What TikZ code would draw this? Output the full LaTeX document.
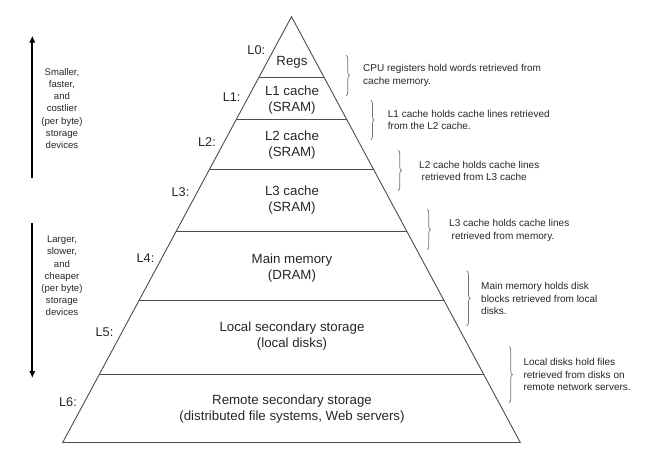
\documentclass[tikz,border=0pt]{standalone}
\usepackage{fontspec}
\setmainfont{Liberation Sans}
\usetikzlibrary{arrows.meta,decorations.pathreplacing}

\begin{document}
\begin{tikzpicture}[x=1pt,y=-1pt,
    tiertext/.style={font=\fontsize{13.3}{16}\selectfont, align=center, inner sep=0pt, text=black!85},
    lvl/.style={font=\fontsize{12.7}{15}\selectfont, inner sep=0pt, text=black!85},
    note/.style={font=\fontsize{10}{12.5}\selectfont, align=left, anchor=west, inner sep=0pt, text=black!85},
    side/.style={font=\fontsize{9.6}{12.2}\selectfont, align=center, inner sep=0pt, text=black!85},
    tier/.style={draw=black!70, line width=0.9pt},
    curly/.style={draw=black!55, line width=0.7pt, decorate, decoration={brace, amplitude=3.5pt}},
    bigarrow/.style={line width=2.3pt, -{Latex[length=7pt,width=6.5pt]}}]
  \useasboundingbox (0,0) rectangle (646,456);

  % pyramid
  \coordinate (top) at (291.5,16.7);
  \coordinate (BL) at (62.7,442.5);
  \coordinate (BR) at (520.3,442.5);
  \draw[tier] (BL) -- (top) -- (BR) -- cycle;

  \coordinate (A1) at (258.7,77.7);  \coordinate (B1) at (324.3,77.7);
  \coordinate (A2) at (236.4,119.3); \coordinate (B2) at (346.6,119.3);
  \coordinate (A3) at (209.5,169.3); \coordinate (B3) at (373.5,169.3);
  \coordinate (A4) at (176.4,231);   \coordinate (B4) at (406.6,231);
  \coordinate (A5) at (139.1,300.3); \coordinate (B5) at (443.9,300.3);
  \coordinate (A6) at (99.5,374);    \coordinate (B6) at (483.5,374);
  \draw[tier] (A1) -- (B1);
  \draw[tier] (A2) -- (B2);
  \draw[tier] (A3) -- (B3);
  \draw[tier] (A4) -- (B4);
  \draw[tier] (A5) -- (B5);
  \draw[tier] (A6) -- (B6);

  % tiers
  \node[tiertext] (regs) at (292,62.7) {Regs};
  \node[tiertext] (lone) at (292,100.3) {L1 cache\\(SRAM)};
  \node[tiertext] (ltwo) at (292,144.7) {L2 cache\\(SRAM)};
  \node[tiertext] (lthree) at (292,199.7) {L3 cache\\(SRAM)};
  \node[tiertext] (mem) at (292,268.3) {Main memory\\(DRAM)};
  \node[tiertext] (local) at (292,336.2) {Local secondary storage\\(local disks)};
  \node[tiertext] (remote) at (292,409.5) {Remote secondary storage\\(distributed file systems, Web servers)};

  % level labels
  \node[lvl] (L0) at (256.3,50) {L0:};
  \node[lvl] (L1) at (231.7,96.7) {L1:};
  \node[lvl] (L2) at (207,141.7) {L2:};
  \node[lvl] (L3) at (180.5,191.7) {L3:};
  \node[lvl] (L4) at (145.5,257.7) {L4:};
  \node[lvl] (L5) at (104.5,331.7) {L5:};
  \node[lvl] (L6) at (68,401.7) {L6:};

  % notes
  \node[note] (n0) at (363,75.5) {CPU registers hold words retrieved from\\cache memory.};
  \node[note] (n1) at (387.7,119.7) {L1 cache holds cache lines retrieved\\from the L2 cache.};
  \node[note] (n2) at (419,171) {L2 cache holds cache lines\\\hspace*{2.5pt}retrieved from L3 cache};
  \node[note] (n3) at (449,230.5) {L3 cache holds cache lines\\\hspace*{2.5pt}retrieved from memory.};
  \node[note] (n4) at (481,298.7) {Main memory holds disk\\blocks retrieved from local\\disks.};
  \node[note] (n5) at (523.3,374.7) {Local disks hold files\\retrieved from disks on\\remote network servers.};

  % braces
  \coordinate (c0a) at (346,55);    \coordinate (c0b) at (346,96);
  \coordinate (c1a) at (370.7,100); \coordinate (c1b) at (370.7,140);
  \coordinate (c2a) at (398,150);   \coordinate (c2b) at (398,190.7);
  \coordinate (c3a) at (427,209.3); \coordinate (c3b) at (427,250);
  \coordinate (c4a) at (466.7,270.7); \coordinate (c4b) at (466.7,326);
  \coordinate (c5a) at (509,346.7); \coordinate (c5b) at (509,402.7);
  \draw[curly] (c0a) -- (c0b);
  \draw[curly] (c1a) -- (c1b);
  \draw[curly] (c2a) -- (c2b);
  \draw[curly] (c3a) -- (c3b);
  \draw[curly] (c4a) -- (c4b);
  \draw[curly] (c5a) -- (c5b);

  % side arrows
  \node[side] (small) at (62,108.5) {Smaller,\\faster,\\and\\costlier\\(per byte)\\storage\\devices};
  \node[side] (large) at (62,276) {Larger,\\slower,\\and\\cheaper\\(per byte)\\storage\\devices};
  \coordinate (upS) at (32.3,177.7); \coordinate (upE) at (32.3,35.7);
  \coordinate (dnS) at (32.3,223);   \coordinate (dnE) at (32.3,378);
  \draw[bigarrow] (upS) -- (upE);
  \draw[bigarrow] (dnS) -- (dnE);
\end{tikzpicture}
\end{document}
